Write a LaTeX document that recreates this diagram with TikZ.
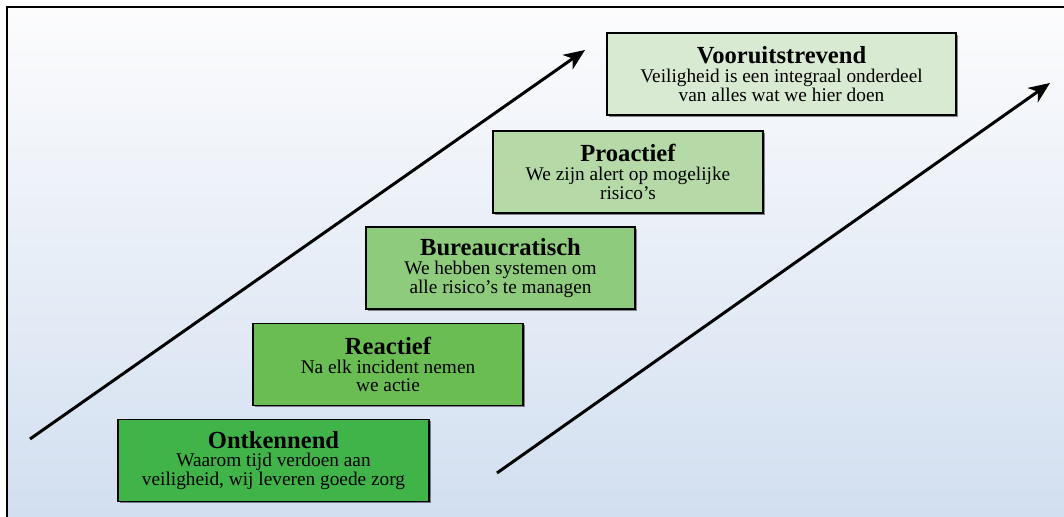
\documentclass[tikz,border=0pt]{standalone}
\usepackage{fontspec}
\setmainfont{Liberation Serif}
\usepackage{tikz}
\usetikzlibrary{arrows.meta,shadows}

\definecolor{ontkgreen}{RGB}{64,180,72}
\definecolor{reactgreen}{RGB}{106,189,82}
\definecolor{bureaugreen}{RGB}{143,203,124}
\definecolor{proactgreen}{RGB}{181,218,167}
\definecolor{voorgreen}{RGB}{217,234,211}
\definecolor{bgtop}{RGB}{252,252,253}
\definecolor{bgbottom}{RGB}{210,223,240}

\newcommand{\stagetitle}[1]{{\fontsize{14}{11}\selectfont\bfseries #1}}
\newcommand{\stagefont}{\fontsize{11}{10.6}\selectfont\lineskiplimit-10pt\relax}

\begin{document}
\begin{tikzpicture}[
	stagebox/.style={draw, line width=0.8pt, minimum height=1.64cm, inner sep=0pt, align=center,
		font=\stagefont,
		drop shadow={shadow xshift=0.9pt, shadow yshift=-0.9pt, fill=black, opacity=0.45}},
	trend/.style={line width=1.7pt, -{Stealth[length=12pt,width=10pt,inset=3.5pt]}}
	]
		\useasboundingbox (0,0) rectangle (21.28,10.34);
		%\draw [help lines] (0,0) grid (21,10);
		\shade [top color=bgtop, bottom color=bgbottom] (0.14,0) rectangle (21.28,10.20);
		\draw [line width=1.1pt] (0.14,0) -- (0.14,10.20) -- (21.28,10.20);
		
		\node [stagebox, fill=ontkgreen, minimum width=6.22cm] (ontk) at (5.47,1.13)
			{\stagetitle{Ontkennend}\\ Waarom tijd verdoen aan\\ veiligheid, wij leveren goede zorg};
		\node [stagebox, fill=reactgreen, minimum width=5.40cm] (react) at (7.76,3.05)
			{\stagetitle{Reactief}\\ Na elk incident nemen\\ we actie};
		\node [stagebox, fill=bureaugreen, minimum width=5.38cm] (bureau) at (10.01,4.98)
			{\stagetitle{Bureaucratisch}\\ We hebben systemen om\\ alle risico's te managen};
		\node [stagebox, fill=proactgreen, minimum width=5.40cm] (proact) at (12.56,6.90)
			{\stagetitle{Proactief}\\ We zijn alert op mogelijke\\ risico's};
		\node [stagebox, fill=voorgreen, minimum width=6.98cm] (voor) at (15.63,8.86)
			{\stagetitle{Vooruitstrevend}\\ Veiligheid is een integraal onderdeel\\ van alles wat we hier doen};
		
		% trend arrows
		\coordinate (lstart) at (0.60,1.56);
		\coordinate (lend) at (11.70,9.34);
		\coordinate (rstart) at (9.94,0.88);
		\coordinate (rend) at (21.00,8.68);
		\draw [trend] (lstart) -- (lend);
		\draw [trend] (rstart) -- (rend);
	\end{tikzpicture}
\end{document}
